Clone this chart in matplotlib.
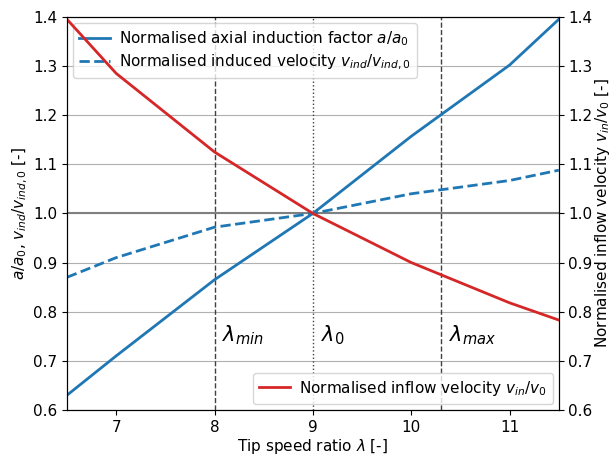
import matplotlib
matplotlib.use("Agg")
import matplotlib.pyplot as plt

plt.rcParams['font.size'] = 11

tsr = [6.5, 7, 8, 9, 10, 11, 11.5]
a_norm = [0.63, 0.71, 0.865, 1.0, 1.157, 1.302, 1.395]
vind_norm = [0.87, 0.91, 0.972, 1.0, 1.04, 1.067, 1.088]
vin_norm = [1.395, 1.285, 1.125, 1.0, 0.90, 0.818, 0.783]

tsr_min, tsr_0, tsr_max = 8, 9, 10.3

fig = plt.figure(figsize=(6.12, 4.57), dpi=100)
ax = fig.add_subplot(111)
fig.subplots_adjust(left=0.1095, right=0.913, top=0.963, bottom=0.103)

ax.grid(True, axis='y', color='#b0b0b0')
ax.axhline(1.0, color='gray', linewidth=1.5)
ax.axvline(tsr_min, color='#404040', linestyle='--', linewidth=1)
ax.axvline(tsr_0, color='#404040', linestyle=':', linewidth=1)
ax.axvline(tsr_max, color='#404040', linestyle='--', linewidth=1)

ax.plot(tsr, a_norm, color='tab:blue', linewidth=2, label='Normalised axial induction factor $a/a_0$')
ax.plot(tsr, vind_norm, color='tab:blue', linewidth=2, linestyle='--',
        label='Normalised induced velocity $v_{ind}/v_{ind,0}$')
ax.set_xlim(6.5, 11.5)
ax.set_ylim(0.6, 1.4)
ax.set_xlabel(r'Tip speed ratio $\lambda$ [-]', labelpad=2)
ax.set_ylabel(r'$a/a_0$, $v_{ind}/v_{ind,0}$ [-]', labelpad=2)
ax.legend(loc='upper left', borderaxespad=0.4, handletextpad=0.6, labelspacing=0.3)

ax.text(tsr_min + 0.08, 0.74, r'$\lambda_{min}$', fontsize=15)
ax.text(tsr_0 + 0.08, 0.74, r'$\lambda_{0}$', fontsize=15)
ax.text(tsr_max + 0.08, 0.74, r'$\lambda_{max}$', fontsize=15)

ax2 = ax.twinx()
ax2.plot(tsr, vin_norm, color='tab:red', linewidth=2, label='Normalised inflow velocity $v_{in}/v_0$')
ax2.set_ylim(0.6, 1.4)
ax2.set_ylabel(r'Normalised inflow velocity $v_{in}/v_0$ [-]', labelpad=0)
ax2.legend(loc='lower right', borderaxespad=0.4, handletextpad=0.6)

fig.savefig('out.png', dpi=100)
